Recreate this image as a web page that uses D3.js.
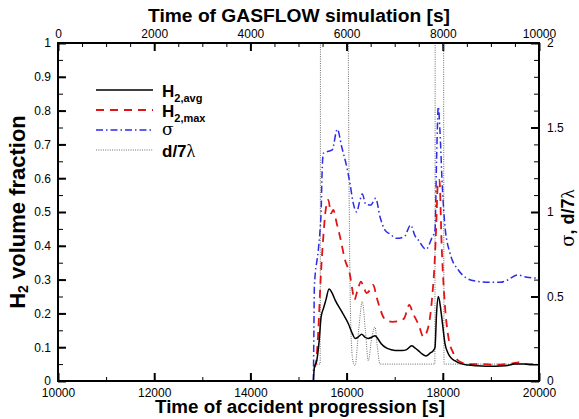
<!DOCTYPE html>
<html><head><meta charset="utf-8">
<script src="https://cdn.jsdelivr.net/npm/d3@7"></script>
<style>body{margin:0;background:#fff}svg{display:block}text{font-family:"Liberation Sans",Arial,sans-serif}</style>
</head><body><svg id="c" width="579" height="419"></svg>
<script>
// ---- data ----
const timeAvg = [15310,15330,15380,15430,15470,15520,15570,15635,15700,15760,15900,16035,16120,16175,16240,16314,16380,16451,16530,16590,16650,16720,16833,16950,17041,17150,17249,17353,17420,17491,17570,17651,17740,17803,17838,17870,17907,17940,17977,18046,18100,18150,18250,18358,18530,18700,18900,19100,19300,19500,19700,19850,20000];
const h2Avg   = [0,0.04,0.06,0.12,0.19,0.215,0.24,0.272,0.26,0.24,0.205,0.17,0.14,0.126,0.13,0.138,0.13,0.126,0.13,0.134,0.125,0.11,0.097,0.092,0.09,0.09,0.093,0.104,0.098,0.09,0.08,0.074,0.083,0.09,0.1,0.2,0.25,0.23,0.19,0.11,0.085,0.072,0.06,0.052,0.047,0.045,0.044,0.044,0.045,0.05,0.05,0.048,0.048];

const timeMax = [15330,15360,15412,15460,15516,15565,15620,15676,15724,15794,15863,15967,16070,16120,16160,16230,16299,16360,16418,16490,16555,16620,16694,16760,16850,16950,17110,17200,17304,17380,17500,17595,17699,17780,17830,17860,17900,17930,17977,18046,18115,18220,18358,18550,18800,19100,19300,19450,19570,19700,20000];
const h2Max   = [0.04,0.05,0.15,0.3,0.427,0.506,0.536,0.496,0.506,0.467,0.427,0.358,0.314,0.27,0.24,0.27,0.294,0.275,0.26,0.27,0.284,0.25,0.215,0.19,0.178,0.175,0.178,0.186,0.225,0.2,0.166,0.131,0.16,0.25,0.35,0.447,0.59,0.595,0.397,0.22,0.131,0.082,0.057,0.05,0.05,0.048,0.05,0.052,0.055,0.05,0.05];

const timeSigma = [15310,15320,15330,15412,15450,15470,15490,15516,15640,15700,15807,15898,16002,16070,16139,16210,16270,16326,16400,16500,16605,16694,16798,16900,17041,17200,17332,17420,17491,17651,17769,17838,17870,17907,17940,17990,18046,18150,18323,18497,18700,18900,19189,19350,19550,19750,20000];
const sigma     = [0,0.3,0.56,0.775,0.9,1.0,1.23,1.347,1.361,1.367,1.49,1.386,1.268,1.17,1.051,1.0,1.06,1.107,1.045,1.041,1.081,0.972,0.893,0.87,0.844,0.854,0.923,0.86,0.834,0.779,0.844,0.893,1.3,1.623,1.485,1.15,0.913,0.756,0.657,0.608,0.59,0.585,0.584,0.598,0.627,0.614,0.608];

const timeRatio = [15330,15450,15462,16020,16035,16090,16130,16175,16250,16326,16390,16451,16520,16590,16640,16694,17835,17848,18010,18025,20000];
const ratio     = [0.1,0.1,4,4,2,0.3,0.12,0.09,0.3,0.47,0.3,0.12,0.25,0.32,0.2,0.1,0.1,4,4,0.1,0.1];

const bottomTicks = [10000,12000,14000,16000,18000,20000];
const topTicks    = [0,2000,4000,6000,8000,10000];
const leftTicks   = [0,0.1,0.2,0.3,0.4,0.5,0.6,0.7,0.8,0.9,1];
const rightTicks  = [0,0.5,1,1.5,2];

// ---- layout ----
const L = 58, R = 539, T = 43, B = 381;
const svg = d3.select("#c");
const x = d3.scaleLinear([10000, 20000], [L, R]);
const xTop = d3.scaleLinear([0, 10000], [L, R]);
const yL = d3.scaleLinear([0, 1], [B, T]);
const yR = d3.scaleLinear([0, 2], [B, T]);

svg.append("defs").append("clipPath").attr("id", "clip")
  .append("rect").attr("x", L).attr("y", T).attr("width", R - L).attr("height", B - T);

function styleAxis(g, size) {
  g.select(".domain").remove();
  g.selectAll("text").style("font-size", size + "px").attr("fill", "#000")
    .style("font-family", '"Liberation Sans",Arial,sans-serif');
  g.selectAll("line").attr("stroke", "#000");
}

// minor ticks
const minorW = 1;
svg.append("g").attr("transform", `translate(0,${B})`)
  .call(d3.axisBottom(x).tickValues(d3.range(10000, 20001, 1000)).tickSizeInner(-4).tickSizeOuter(0).tickFormat(""))
  .call(g => { g.select(".domain").remove(); g.selectAll("line").attr("stroke", "#000").attr("stroke-width", minorW); });
svg.append("g").attr("transform", `translate(0,${T})`)
  .call(d3.axisTop(xTop).tickValues(d3.range(0, 10001, 500)).tickSizeInner(-4).tickSizeOuter(0).tickFormat(""))
  .call(g => { g.select(".domain").remove(); g.selectAll("line").attr("stroke", "#000").attr("stroke-width", minorW); });
svg.append("g").attr("transform", `translate(${L},0)`)
  .call(d3.axisLeft(yL).tickValues(d3.range(0, 21).map(d => d * 0.05)).tickSizeInner(-5).tickSizeOuter(0).tickFormat(""))
  .call(g => { g.select(".domain").remove(); g.selectAll("line").attr("stroke", "#000").attr("stroke-width", minorW); });
svg.append("g").attr("transform", `translate(${R},0)`)
  .call(d3.axisRight(yR).tickValues(d3.range(0, 21).map(d => d * 0.1)).tickSizeInner(-5).tickSizeOuter(0).tickFormat(""))
  .call(g => { g.select(".domain").remove(); g.selectAll("line").attr("stroke", "#000").attr("stroke-width", minorW); });

// major ticks + labels
svg.append("g").attr("transform", `translate(0,${B})`)
  .call(d3.axisBottom(x).tickValues(bottomTicks).tickSizeInner(-8).tickSizeOuter(0).tickPadding(7).tickFormat(d3.format("d")))
  .call(g => { styleAxis(g, 12); g.selectAll("line").attr("stroke-width", 2); });
svg.append("g").attr("transform", `translate(0,${T})`)
  .call(d3.axisTop(xTop).tickValues(topTicks).tickSizeInner(-8).tickSizeOuter(0).tickPadding(5).tickFormat(d3.format("d")))
  .call(g => { styleAxis(g, 12); g.selectAll("line").attr("stroke-width", 2); });
svg.append("g").attr("transform", `translate(${L},0)`)
  .call(d3.axisLeft(yL).tickValues(leftTicks).tickSizeInner(-8).tickSizeOuter(0).tickPadding(7).tickFormat(d => d3.format("")(+d.toFixed(1))))
  .call(g => { styleAxis(g, 12); g.selectAll("line").attr("stroke-width", 2); });
svg.append("g").attr("transform", `translate(${R},0)`)
  .call(d3.axisRight(yR).tickValues(rightTicks).tickSizeInner(-8).tickSizeOuter(0).tickPadding(8).tickFormat(d => d3.format("")(d)))
  .call(g => { styleAxis(g, 12); g.selectAll("line").attr("stroke-width", 2); });

// ---- series ----
const plot = svg.append("g").attr("clip-path", "url(#clip)");
const curve = d3.curveMonotoneX;
function drawSeries(ts, vs, yScale, stroke, width, dash) {
  const line = d3.line().x((d, i) => x(ts[i])).y((d, i) => yScale(vs[i])).curve(curve);
  plot.append("path").datum(vs).attr("d", line)
    .attr("fill", "none").attr("stroke", stroke).attr("stroke-width", width)
    .attr("stroke-dasharray", dash).attr("stroke-linejoin", "round");
}
const styles = {
  ratio: { stroke: "#6a6a6a", width: 1, dash: "1,1.3" },
  sigma: { stroke: "#2b2be8", width: 1.5, dash: "7,3,1.5,3" },
  max:   { stroke: "#e01414", width: 1.8, dash: "8,6" },
  avg:   { stroke: "#000", width: 1.5, dash: null }
};
drawSeries(timeRatio, ratio, yR, styles.ratio.stroke, styles.ratio.width, styles.ratio.dash);
drawSeries(timeSigma, sigma, yR, styles.sigma.stroke, styles.sigma.width, styles.sigma.dash);
drawSeries(timeMax, h2Max, yL, styles.max.stroke, styles.max.width, styles.max.dash);
drawSeries(timeAvg, h2Avg, yL, styles.avg.stroke, styles.avg.width, styles.avg.dash);

// frame
svg.append("rect").attr("x", L).attr("y", T).attr("width", R - L).attr("height", B - T)
  .attr("fill", "none").attr("stroke", "#000").attr("stroke-width", 2);

// ---- legend ----
const leg = svg.append("g");
const legRows = [
  { s: styles.avg, y: 90 },
  { s: styles.max, y: 110 },
  { s: styles.sigma, y: 130 },
  { s: styles.ratio, y: 150 }
];
legRows.forEach(r => {
  leg.append("line").attr("x1", 96).attr("x2", 153).attr("y1", r.y).attr("y2", r.y)
    .attr("stroke", r.s.stroke).attr("stroke-width", r.s.width).attr("stroke-dasharray", r.s.dash);
});
function hLabel(y, sub) {
  const t = leg.append("text").attr("x", 162).attr("y", y).attr("font-weight", "bold").attr("font-size", 17);
  t.append("tspan").text("H");
  t.append("tspan").attr("font-size", 11).attr("dy", 5).text(sub);
}
hLabel(97, "2,avg");
hLabel(117, "2,max");
leg.append("text").attr("x", 162).attr("y", 135).attr("font-size", 17)
  .style("font-family", '"DejaVu Serif","Liberation Serif",serif').text("σ");
const dl = leg.append("text").attr("x", 162).attr("y", 157).attr("font-size", 17);
dl.append("tspan").attr("font-weight", "bold").text("d/7");
dl.append("tspan").style("font-family", '"Liberation Serif",serif').attr("font-size", 18).text("λ");

// ---- titles ----
svg.append("text").attr("x", 299).attr("y", 22).attr("text-anchor", "middle")
  .attr("font-weight", "bold").attr("font-size", 18).attr("textLength", 302).attr("lengthAdjust", "spacingAndGlyphs")
  .text("Time of GASFLOW simulation [s]");
svg.append("text").attr("x", 300).attr("y", 413).attr("text-anchor", "middle")
  .attr("font-weight", "bold").attr("font-size", 18).attr("textLength", 290).attr("lengthAdjust", "spacingAndGlyphs")
  .text("Time of accident progression [s]");

const yl = svg.append("text").attr("transform", "translate(25,212) rotate(-90)")
  .attr("text-anchor", "middle").attr("font-weight", "bold").attr("font-size", 22);
yl.append("tspan").text("H");
yl.append("tspan").attr("font-size", 14).attr("dy", 3).text("2");
yl.append("tspan").attr("dy", -3).text(" volume fraction");

const yr = svg.append("text").attr("transform", "translate(574,218) rotate(-90)")
  .attr("text-anchor", "middle").attr("font-size", 18);
yr.append("tspan").style("font-family", '"DejaVu Serif","Liberation Serif",serif').text("σ");
yr.append("tspan").attr("font-weight", "bold").text(", d/7");
yr.append("tspan").style("font-family", '"Liberation Serif",serif').attr("font-size", 19).text("λ");
</script>
</body></html>
